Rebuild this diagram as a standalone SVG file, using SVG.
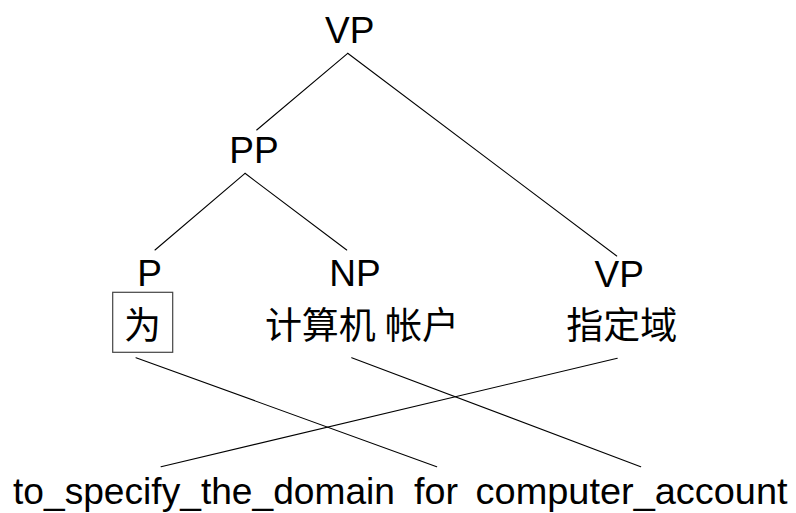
<svg xmlns="http://www.w3.org/2000/svg" width="796" height="513" viewBox="0 0 796 513">
  <style>
    .lbl { font-family: "Liberation Sans", Arial, Helvetica, sans-serif; font-size: 37px; fill: #000; text-anchor: middle; }
    .word { font-family: "Liberation Sans", Arial, Helvetica, sans-serif; font-size: 37.5px; fill: #000; }
    .cjk { font-family: "Liberation Serif", "Noto Sans CJK SC", serif; font-size: 37px; fill: #000; text-anchor: middle; }
    .edge { stroke: #000; stroke-width: 1.1; fill: none; stroke-linecap: round; }
    .box { stroke: #444; stroke-width: 1.2; fill: none; }
  </style>
  <rect width="796" height="513" fill="#fff"/>

  <!-- tree edges and word alignments -->
  <g id="connectors">
    <line class="edge" x1="347.7" y1="53.3" x2="256.7" y2="130"/>
    <line class="edge" x1="347.7" y1="53.3" x2="616.7" y2="256"/>
    <line class="edge" x1="245" y1="173.3" x2="155" y2="250"/>
    <line class="edge" x1="245" y1="173.3" x2="346.7" y2="250"/>
    <line class="edge" x1="136" y1="357.7" x2="436.7" y2="466.7"/>
    <line class="edge" x1="351.7" y1="357.7" x2="640.7" y2="466.7"/>
    <line class="edge" x1="617.3" y1="358.3" x2="161" y2="466.7"/>
  </g>

  <g id="vp-root"><text class="lbl" x="349.7" y="43">VP</text></g>
  <g id="pp"><text class="lbl" x="254" y="162.5">PP</text></g>
  <g id="p"><text class="lbl" x="149.7" y="286">P</text></g>
  <g id="np"><text class="lbl" x="355" y="286">NP</text></g>
  <g id="vp"><text class="lbl" x="619.2" y="287">VP</text></g>

  <g id="src-wei">
    <rect class="box" x="112.7" y="292.3" width="60" height="60"/>
    <text class="cjk" x="142.5" y="339">为</text>
  </g>
  <g id="src-account"><text class="cjk" x="362" y="339">计算机 帐户</text></g>
  <g id="src-domain"><text class="cjk" x="621.7" y="339">指定域</text></g>

  <g id="tgt-specify"><text class="word" x="13" y="504" textLength="382" lengthAdjust="spacingAndGlyphs">to_specify_the_domain</text></g>
  <g id="tgt-for"><text class="word" x="414" y="504" textLength="44" lengthAdjust="spacingAndGlyphs">for</text></g>
  <g id="tgt-account"><text class="word" x="475.6" y="504" textLength="312" lengthAdjust="spacingAndGlyphs">computer_account</text></g>
</svg>
